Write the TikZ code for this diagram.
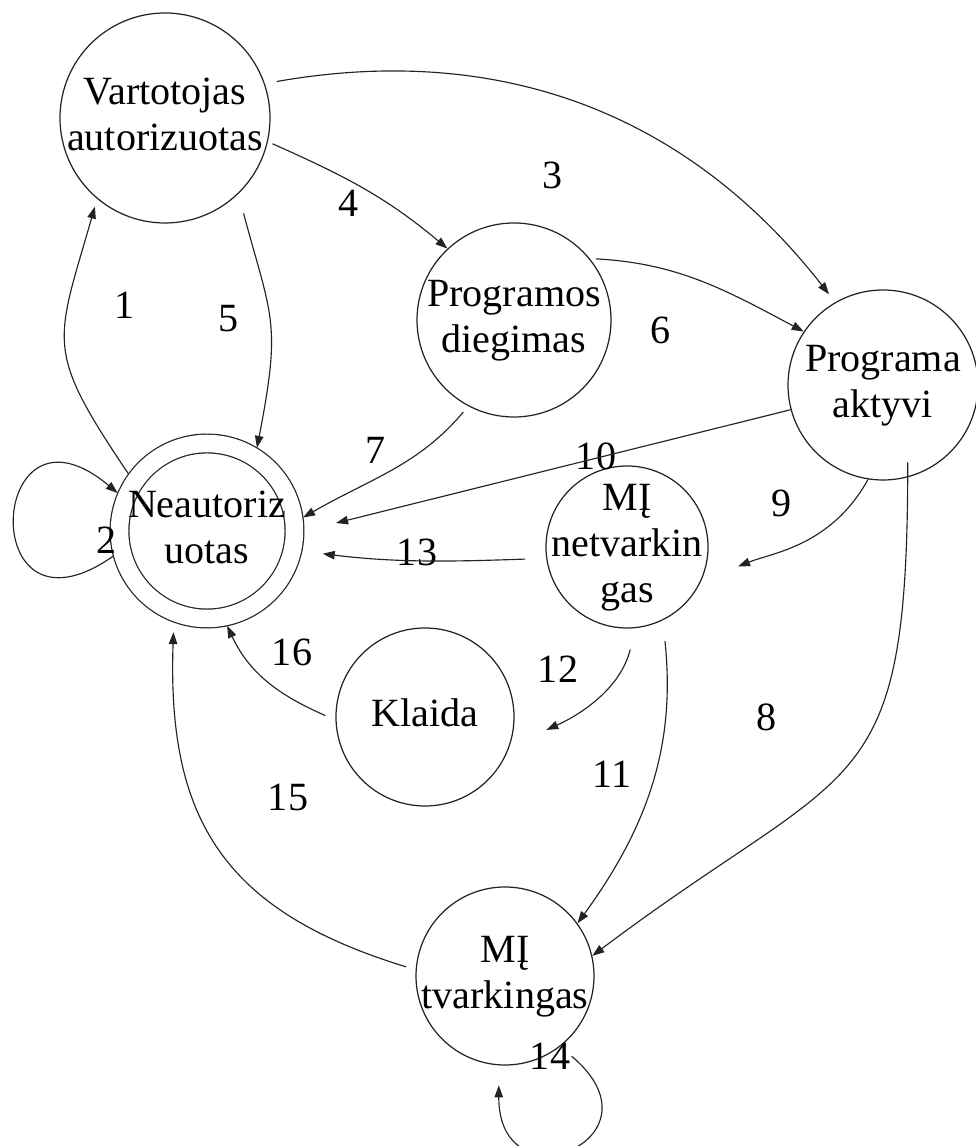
\documentclass[tikz,border=0pt]{standalone}
\usepackage{fontspec}
\setmainfont{Liberation Serif}
\usepackage{xcolor}
\usepackage{tikz}
\usetikzlibrary{arrows.meta, positioning}
\definecolor{darkline}{RGB}{35, 35, 35}
\newcommand{\stname}[1]{\makebox[0pt]{\begin{tabular}{@{}c@{}}#1\end{tabular}}}
\tikzset{
  state/.style={circle, draw=darkline, line width=0.7pt, minimum size=#1,
              inner sep=0pt, font=\fontsize{22.8pt}{26.2pt}\selectfont},
  state/.default=3.56cm,
  endstate/.style={state=#1, double=white, double distance=0.35cm, outer sep=0.19cm},
  arrow/.style={-{Triangle[length=0.24cm, width=0.17cm]}, line width=0.65pt, color=darkline},
  num/.style={inner sep=0pt, font=\fontsize{22.8pt}{26.2pt}\selectfont},
}

\begin{document}
\begin{tikzpicture}
  \useasboundingbox (0,0) rectangle (19.52,22.92);
  \node[state=4.2cm] (vart_s) at (3.30,20.56) {\stname{Vartotojas\\autorizuotas}};
  \node[state=3.88cm] (diegim_s) at (10.28,16.52) {\stname{Programos\\diegimas}};
  \node[state=3.8cm] (aktyv_s) at (17.66,15.22) {\stname{Programa\\aktyvi}};
  \node[endstate=3.5cm] (neaut_s) at (4.14,12.30) {\stname{Neautoriz\\uotas}};
  \node[state=3.24cm] (netv_s) at (12.54,11.98) {\stname{MĮ\\netvarkin\\gas}};
  \node[state] (klaida_s) at (8.50,8.58) {\stname{Klaida}};
  \node[state] (tvark_s) at (10.10,3.40) {\stname{MĮ\\tvarkingas}};

  \foreach \n/\x/\y in {1/2.50/16.82, 2/2.14/12.12, 3/11.06/19.42, 4/6.98/18.86,
                        5/4.58/16.54, 6/13.22/16.32, 7/7.52/13.92, 8/15.34/8.58,
                        9/15.64/12.86, 10/11.92/13.80, 11/12.24/7.44, 12/11.16/9.54,
                        13/8.34/11.88, 14/11.00/1.80, 15/5.76/6.98, 16/5.84/9.88}
    \node[num] (lab\n) at (\x,\y) {\n};

  \draw[arrow, shorten >=0.16cm] (neaut_s.144) to[out=124, in=254, looseness=1.4] (vart_s.230);
  \draw[arrow] (neaut_s.195) to[out=215, in=140, looseness=6.9] (neaut_s.157);
  \draw[arrow, shorten <=0.24cm, shorten >=0.2cm] (vart_s.19) to[out=10, in=128] (aktyv_s.120);
  \draw[arrow, shorten <=0.1cm] (vart_s.-13) to[out=-24, in=140] (diegim_s.133);
  \draw[arrow, shorten <=0.4cm] (vart_s.-46) to[out=-75, in=79, looseness=1.3] (neaut_s.59);
  \draw[arrow, shorten <=0.12cm] (diegim_s.39) to[out=-3, in=152] (aktyv_s.146);
  \draw[arrow, shorten <=0.15cm] (diegim_s.-118) to[out=230, in=30] (neaut_s.8);
  \draw[arrow, shorten <=-0.3cm] (aktyv_s.-75) to[out=-90, in=37, looseness=1.47] (tvark_s.13);
  \draw[arrow, shorten >=0.8cm] (aktyv_s.-99) to[out=241, in=22] (netv_s.-25);
  \draw[arrow, shorten >=0.66cm] (aktyv_s.195) -- (neaut_s.east);
  \draw[arrow, shorten <=0.42cm] (netv_s.-64) to[out=-84, in=54] (tvark_s.36);
  \draw[arrow, shorten <=0.44cm, shorten >=0.8cm] (netv_s.-84) to[out=256, in=24] (klaida_s.-19);
  \draw[arrow, shorten <=0.42cm, shorten >=0.42cm] (netv_s.188) to[out=182, in=-7] (neaut_s.-12);
  \draw[arrow, shorten <=0.3cm, shorten >=0.4cm] (tvark_s.-52) to[out=-40, in=-90, looseness=5.7] (tvark_s.-94);
  \draw[arrow, shorten <=0.2cm, shorten >=0.2cm] (tvark_s.176) to[out=163, in=-92, looseness=1.2] (neaut_s.-110);
  \draw[arrow, shorten <=0.22cm] (klaida_s.182) to[out=156, in=-65] (neaut_s.-78);
\end{tikzpicture}
\end{document}
